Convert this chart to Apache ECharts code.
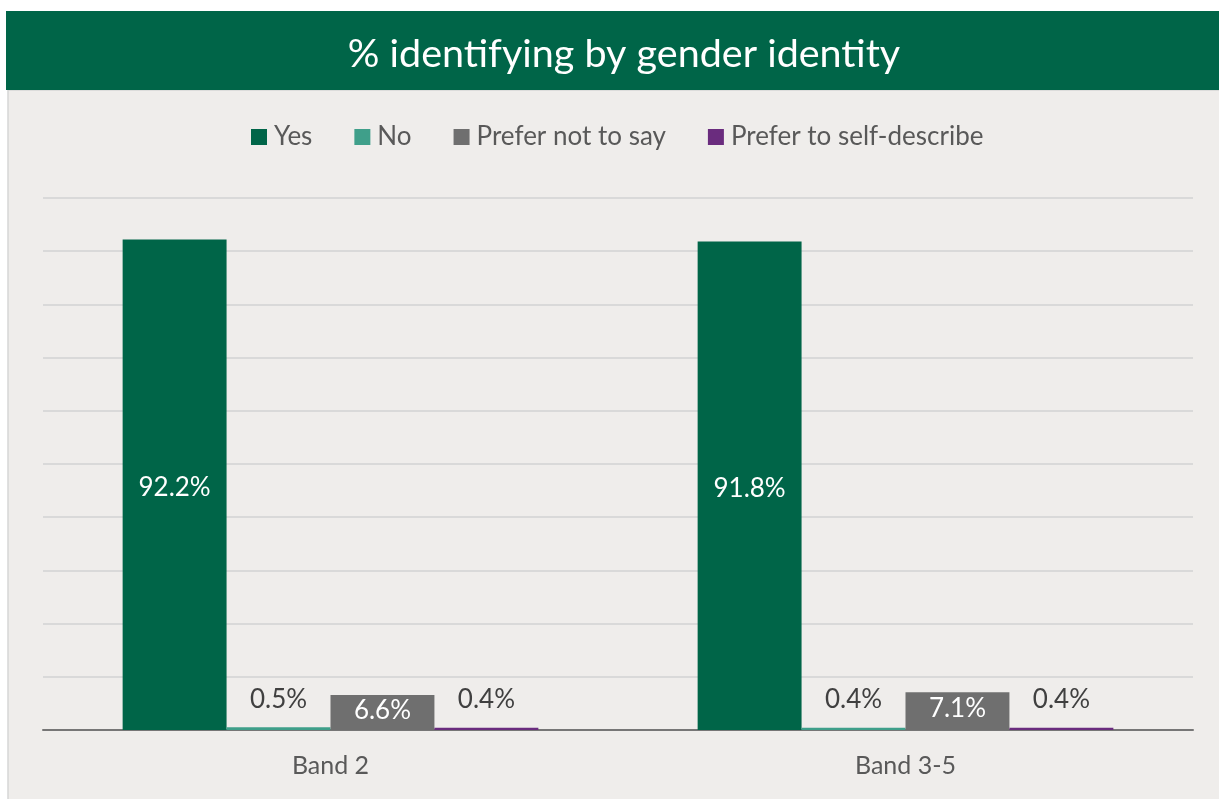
<!DOCTYPE html>
<html>
<head>
<meta charset="utf-8">
<script src="https://cdn.jsdelivr.net/npm/echarts@6/dist/echarts.min.js"></script>
<style>
  html, body { margin: 0; padding: 0; background: #ffffff; }
  #chart { width: 1219px; height: 799px; }
</style>
</head>
<body>
<div id="chart"></div>
<script>
// Survey responses by pay band, in percent
const categories = ['Band 2', 'Band 3-5'];
const yesValues = [92.2, 91.8];
const noValues = [0.5, 0.4];
const preferNotValues = [6.6, 7.1];
const selfDescribeValues = [0.4, 0.4];
const seriesNames = ['Yes', 'No', 'Prefer not to say', 'Prefer to self-describe'];

const FONT = 'Lato, "Open Sans", sans-serif';
const pct = p => p.value.toFixed(1) + '%';

const chart = echarts.init(document.getElementById('chart'), null, { renderer: 'canvas' });

chart.setOption({
  animation: false,
  backgroundColor: '#ffffff',
  textStyle: { fontFamily: FONT },
  graphic: [
    {
      type: 'rect', z: -10, silent: true,
      shape: { x: 8, y: 90, width: 1212, height: 712 },
      style: { fill: '#EFEDEB', stroke: '#D6D6D6', lineWidth: 1.5 }
    },
    {
      type: 'rect', z: -5, silent: true,
      shape: { x: 6, y: 11, width: 1214, height: 79 },
      style: { fill: '#006548' }
    }
  ],
  title: {
    text: '% identifying by gender identity',
    left: 619, top: 49, textAlign: 'center', textVerticalAlign: 'middle',
    textStyle: { color: '#ffffff', fontSize: 39.5, fontWeight: 'normal', fontFamily: FONT }
  },
  legend: {
    data: seriesNames,
    top: 119, left: 246,
    itemWidth: 16, itemHeight: 16, itemGap: 42,
    icon: 'rect',
    textStyle: { color: '#595959', fontSize: 26, fontFamily: FONT, padding: [0, 0, 0, 2] }
  },
  grid: { left: 43, right: 26, top: 198, bottom: 69, containLabel: false },
  xAxis: {
    type: 'category',
    data: categories,
    axisLine: { lineStyle: { color: '#767676', width: 2 } },
    axisTick: { show: false },
    axisLabel: { color: '#595959', fontSize: 25, margin: 23, fontFamily: FONT }
  },
  yAxis: {
    type: 'value', min: 0, max: 100, interval: 10,
    axisLine: { show: false }, axisTick: { show: false }, axisLabel: { show: false },
    splitLine: { lineStyle: { color: '#D9D9D9', width: 2 } }
  },
  series: [
    {
      name: seriesNames[0], type: 'bar', data: yesValues,
      barGap: '0%', barCategoryGap: '27.7%',
      itemStyle: { color: '#006548' },
      label: { show: true, position: 'inside', offset: [0, 3], color: '#ffffff', fontSize: 26, fontFamily: FONT, formatter: pct }
    },
    {
      name: seriesNames[1], type: 'bar', data: noValues,
      itemStyle: { color: '#3F9F8A' },
      label: { show: true, position: 'top', distance: 15, color: '#404040', fontSize: 26, fontFamily: FONT, formatter: pct }
    },
    {
      name: seriesNames[2], type: 'bar', data: preferNotValues,
      itemStyle: { color: '#6F6F6F' },
      label: { show: true, position: 'insideTop', distance: 3, color: '#ffffff', fontSize: 26, fontFamily: FONT, formatter: pct }
    },
    {
      name: seriesNames[3], type: 'bar', data: selfDescribeValues,
      itemStyle: { color: '#6A2C7E' },
      label: { show: true, position: 'top', distance: 15, color: '#404040', fontSize: 26, fontFamily: FONT, formatter: pct }
    }
  ]
});
</script>
</body>
</html>
